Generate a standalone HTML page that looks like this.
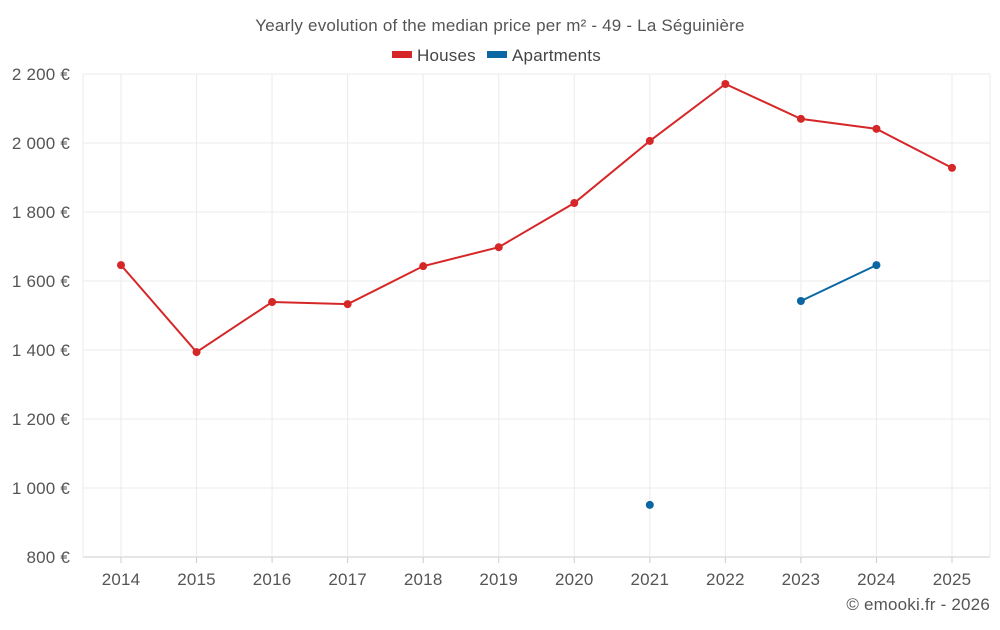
<!DOCTYPE html>
<html><head><meta charset="utf-8"><style>
body{margin:0;background:#fff;font-family:"Liberation Sans",sans-serif;}
svg text{font-family:"Liberation Sans",sans-serif;letter-spacing:0.2px;}
</style></head><body>
<svg id="chart" width="1000" height="625" xmlns="http://www.w3.org/2000/svg">
<text x="500" y="31" text-anchor="middle" font-size="17" fill="#555">Yearly evolution of the median price per m² - 49 - La Séguinière</text>
<g>
<rect x="392" y="51" width="20" height="7" fill="#d62728"/>
<text x="417" y="61" font-size="17" fill="#444">Houses</text>
<rect x="487" y="51" width="20" height="7" fill="#0a67a3"/>
<text x="512" y="61" font-size="17" fill="#444">Apartments</text>
</g>
<g id="grid"></g><g id="axes"></g><g id="series"></g>
<text x="990" y="610" text-anchor="end" font-size="17" fill="#555">© emooki.fr - 2026</text>
</svg>
<script>
const years=[2014,2015,2016,2017,2018,2019,2020,2021,2022,2023,2024,2025];
const houses=[1646,1394,1539,1533,1643,1698,1826,2006,2171,2070,2041,1928];
const apartments=[null,null,null,null,null,null,null,951,null,1542,1646,null];
const yTicks=[800,1000,1200,1400,1600,1800,2000,2200];
const yTickLabels=["800 €","1 000 €","1 200 €","1 400 €","1 600 €","1 800 €","2 000 €","2 200 €"];
const NS="http://www.w3.org/2000/svg";
const L=83,R=990,T=74,B=557,yMin=800,yMax=2200;
const xs=i=>121+i*(952-121)/(years.length-1);
const ys=v=>B-(v-yMin)/(yMax-yMin)*(B-T);
function mk(tag,attrs,parent){const e=document.createElementNS(NS,tag);for(const k in attrs)e.setAttribute(k,attrs[k]);parent.appendChild(e);return e;}
const grid=document.getElementById('grid'),axes=document.getElementById('axes'),ser=document.getElementById('series');
yTicks.forEach((t,i)=>{
 const l=mk('line',{x1:L,x2:R,y1:ys(t),y2:ys(t),stroke:t===yMin?'#ccc':'#ebebeb'},grid);
 
 
 const tx=mk('text',{x:70,y:ys(t)+6,'text-anchor':'end','font-size':17,fill:'#555'},axes);
 tx.textContent=yTickLabels[i];
 
 
});
[L,R].forEach(x=>{const l=mk('line',{x1:x,x2:x,y1:T,y2:B,stroke:'#ebebeb'},grid);
 
 });
years.forEach((y,i)=>{
 const l=mk('line',{x1:xs(i),x2:xs(i),y1:T,y2:B,stroke:'#ebebeb'},grid);
 
 
 const tk=mk('line',{x1:xs(i),x2:xs(i),y1:B,y2:B+6,stroke:'#ccc'},axes);
 
 
 const tx=mk('text',{x:xs(i),y:585,'text-anchor':'middle','font-size':17,fill:'#555'},axes);
 tx.textContent=y;
 
 
});
function draw(vals,color,name){
 let seg=[];const segs=[];
 vals.forEach((v,i)=>{if(v==null){if(seg.length)segs.push(seg);seg=[];}else seg.push([xs(i),ys(v)]);});
 if(seg.length)segs.push(seg);
 segs.forEach(s=>{if(s.length>1){const p=mk('polyline',{points:s.map(q=>q.join(',')).join(' '),fill:'none',stroke:color,'stroke-width':2},ser);
  
  }});
 vals.forEach((v,i)=>{if(v==null)return;const c=mk('circle',{cx:xs(i),cy:ys(v),r:4,fill:color},ser);
  
  });
}
draw(houses,'#d62728','houses');
draw(apartments,'#0a67a3','apartments');
</script>
</body></html>
